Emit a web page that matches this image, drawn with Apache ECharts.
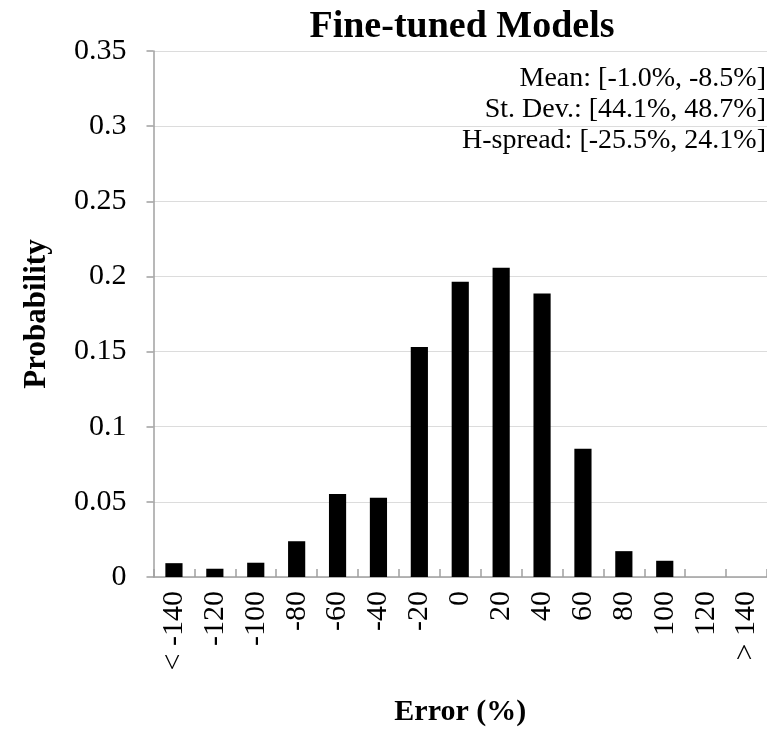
<!DOCTYPE html>
<html>
<head>
<meta charset="utf-8">
<script src="https://cdn.jsdelivr.net/npm/echarts@6/dist/echarts.min.js"></script>
<style>html,body{margin:0;padding:0;background:#fff;}#c{width:767px;height:732px;}</style>
</head>
<body>
<div id="c"></div>
<script>
const categories = ['< -140', '-120', '-100', '-80', '-60', '-40', '-20', '0', '20', '40', '60', '80', '100', '120', '> 140'];
const probability = [0.0092, 0.0055, 0.0095, 0.0238, 0.0552, 0.0528, 0.153, 0.1965, 0.2058, 0.1887, 0.0854, 0.0172, 0.0108, 0, 0];
const yTicks = [0, 0.05, 0.1, 0.15, 0.2, 0.25, 0.3, 0.35];
const statsLines = ['Mean: [-1.0%, -8.5%]', 'St. Dev.: [44.1%, 48.7%]', 'H-spread: [-25.5%, 24.1%]'];
const titleText = 'Fine-tuned Models';
const xName = 'Error (%)';
const yName = 'Probability';

const FONT = '"Liberation Serif", "Times New Roman", serif';
const chart = echarts.init(document.getElementById('c'));
chart.setOption({
  animation: false,
  title: {
    text: titleText, left: 457, top: 3, textAlign: 'center',
    textStyle: { fontFamily: FONT, fontSize: 38, fontWeight: 'bold', color: '#000' }
  },
  grid: { left: 153.5, right: -10.5, top: 51, bottom: 152, containLabel: false },
  xAxis: {
    type: 'category', data: categories,
    name: xName, nameLocation: 'middle', nameGap: 120,
    nameTextStyle: { fontFamily: FONT, fontSize: 30, fontWeight: 'bold', color: '#000' },
    axisLine: { lineStyle: { color: '#a0a0a0', width: 1.5 } },
    axisTick: { show: true, inside: true, length: 8, alignWithLabel: false, lineStyle: { color: '#a0a0a0', width: 1.5 } },
    axisLabel: { rotate: 90, margin: 14, interval: 0, fontFamily: FONT, fontSize: 30, color: '#000' },
    splitLine: { show: false }
  },
  yAxis: {
    type: 'value', min: yTicks[0], max: yTicks[yTicks.length - 1], interval: 0.05,
    name: yName, nameLocation: 'middle', nameGap: 101, nameRotate: 90,
    nameTextStyle: { fontFamily: FONT, fontSize: 31, fontWeight: 'bold', color: '#000' },
    axisLine: { show: true, lineStyle: { color: '#a0a0a0', width: 1.5 } },
    axisTick: { show: true, inside: false, length: 7, lineStyle: { color: '#a0a0a0', width: 1.5 } },
    axisLabel: { margin: 27, fontFamily: FONT, fontSize: 30, color: '#000',
      formatter: v => String(+v.toFixed(2)) },
    splitLine: { show: true, lineStyle: { color: '#dcdcdc', width: 1.2 } }
  },
  series: [{
    type: 'bar', data: probability, barWidth: '42%',
    itemStyle: { color: '#000' }
  }],
  graphic: statsLines.map((t, i) => ({
    type: 'text', right: 1, top: 65 + i * 31,
    style: { text: t, fontFamily: FONT, fontSize: 28, fill: '#000', textAlign: 'right' }
  }))
});
</script>
</body>
</html>
